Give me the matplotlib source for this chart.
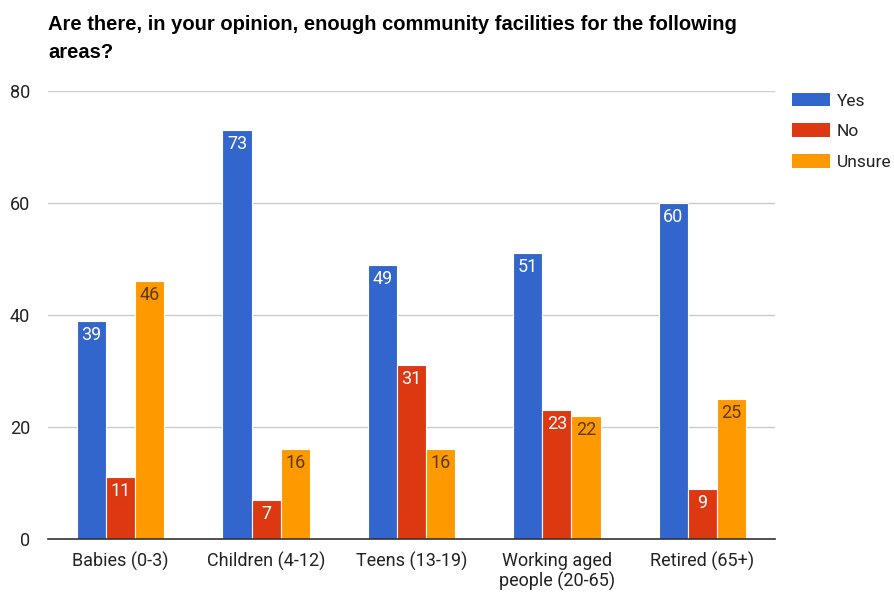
import numpy as np
import matplotlib
matplotlib.use('Agg')
import matplotlib.pyplot as plt
from matplotlib.patches import Patch

plt.rcParams['font.family'] = ['Roboto', 'DejaVu Sans']

categories = ['Babies (0-3)', 'Children (4-12)', 'Teens (13-19)',
              'Working aged\npeople (20-65)', 'Retired (65+)']
series = ['Yes', 'No', 'Unsure']
yes = [39, 73, 49, 51, 60]
no = [11, 7, 31, 23, 9]
unsure = [46, 16, 16, 22, 25]
colors = ['#3366cc', '#dc3912', '#ff9900']
label_colors = ['white', 'white', '#5a3a00']

fig = plt.figure(figsize=(8.95, 5.92), dpi=100)
ax = fig.add_axes([48/895, 53/592, 727/895, 448/592])

x = np.arange(len(categories))
w = 0.2
for i, (vals, c, lc) in enumerate(zip([yes, no, unsure], colors, label_colors)):
    pos = x + (i - 1) * w
    ax.bar(pos, vals, width=w, color=c, edgecolor='white', linewidth=0.8, zorder=2)
    for p, v in zip(pos, vals):
        ax.text(p, v - 0.9, str(v), ha='center', va='top', color=lc,
                fontsize=13, zorder=3)

ax.set_xlim(-0.5, len(categories) - 0.5)
ax.set_ylim(0, 80)
ax.set_yticks([0, 20, 40, 60, 80])
ax.yaxis.grid(True, color='#cccccc', linewidth=1, zorder=0)
ax.set_axisbelow(True)
for s in ['top', 'right', 'left']:
    ax.spines[s].set_visible(False)
ax.spines['bottom'].set_color('#333333')
ax.spines['bottom'].set_linewidth(1.2)
ax.spines['bottom'].set_zorder(4)
ax.tick_params(axis='both', length=0, labelsize=13, labelcolor='#222222')
ax.tick_params(axis='y', pad=13)
ax.tick_params(axis='x', pad=9)
ax.set_xticks(x)
ax.set_xticklabels(categories, linespacing=1.15)

fig.text(48/895, 1 - 38/592, 'Are there, in your opinion, enough community facilities for the following\nareas?',
         ha='left', va='center', fontsize=14.5, fontweight='bold',
         family=['Liberation Sans', 'DejaVu Sans'], linespacing=1.6)

handles = [Patch(facecolor=c, edgecolor='none') for c in colors]
fig.legend(handles, series, loc='upper left', bbox_to_anchor=(776/895, 1 - 77/592),
           frameon=False, fontsize=12.5, handlelength=2.2, handleheight=0.85,
           labelspacing=0.85, handletextpad=0.4, labelcolor='#222222')

fig.savefig('out.png', dpi=100)
